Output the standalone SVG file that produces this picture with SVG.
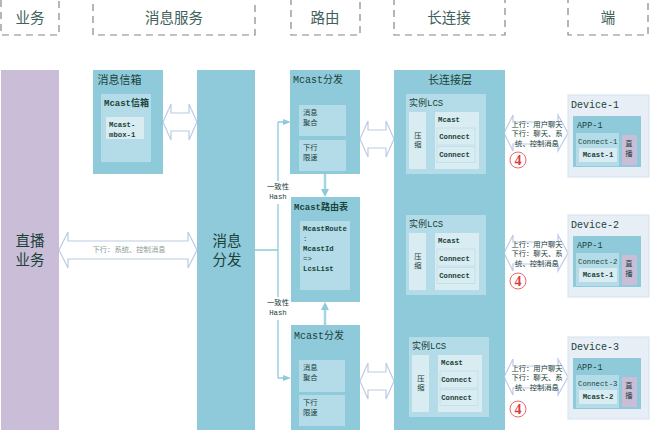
<svg xmlns="http://www.w3.org/2000/svg" width="650" height="430" viewBox="0 0 650 430">
<style>
text{font-family:"Liberation Mono","Noto Sans CJK SC",monospace;fill:#1b4238;text-anchor:middle}
.s{font-family:"Noto Sans CJK SC","Liberation Sans",sans-serif}
.hd{fill:none;stroke:#7d8a86;stroke-width:1.2;stroke-dasharray:7 5}
.ht{font-size:14.5px;fill:#40625a}
.a{fill:#8fcadb}.b{fill:#b4dce8}.c{fill:#d9ecf2}.p{fill:#c9bdd8}.d{fill:#e7eef6;stroke:#d5e3ee;stroke-width:1}
.box{fill:#d9ecf2;stroke:#c3e1ea;stroke-width:1}
.da{fill:#fff;stroke:#bccbe6;stroke-width:1.2}
.ln{fill:none;stroke:#8fcadb;stroke-width:1.3}
.lw{fill:none;stroke:#a5d5e3;stroke-width:2.5}
.ah{fill:#8fcadb}
.t11{font-size:11px}.t10{font-size:10px}.t9{font-size:9px}.t8{font-size:8.5px}.t7{font-size:7.3px}.bd{font-weight:bold}
.l{text-anchor:start}
.big{font-size:14.5px;font-family:"Noto Sans CJK SC","Liberation Sans",sans-serif}
.c4{fill:#fff;stroke:#e86a6a;stroke-width:1}
.n4{font-size:14px;font-weight:bold;fill:#e0393e;font-family:"Liberation Serif",serif}
</style>
<defs>
<path id="dbl" d="M-17 0L-9 -18V-9H9V-18L17 0L9 18V9H-9V18Z"/>
<path id="dblr" d="M-32 0L-23 -18V-11H22V-18L32 0L22 18V11H-23V18Z"/>
<g id="lcs">
<rect class="b" width="80" height="80"/>
<rect class="c" x="3" y="18" width="17" height="57"/>
<rect class="c" x="29" y="18" width="44" height="57"/>
<rect class="box" x="31" y="34" width="38" height="17"/>
<rect class="box" x="31" y="52.5" width="38" height="16"/>
</g>
<g id="dev">
<rect class="d" width="81" height="82"/>
<rect class="a" x="5" y="21" width="68" height="51"/>
<rect class="b" x="8" y="38" width="43" height="33"/>
<rect class="c" x="11" y="53" width="38" height="14"/>
<rect class="p" x="54" y="40" width="15" height="30"/>
</g>
</defs>

<g id="connectors">
<path class="ln" d="M255 250H278M278 122V182M278 204V298M278 320V378M278 122H285M278 378H285"/>
<path class="ah" d="M283 119L291 122L283 125ZM283 375L291 378L283 381Z"/>
<path class="lw" d="M325 174V190M325 325V309"/>
<path class="ah" d="M321 189H329L325 197ZM321 310H329L325 302Z"/>
<use href="#dbl" class="da" x="180" y="122"/>
<use href="#dbl" class="da" x="377" y="139"/>
<use href="#dbl" class="da" x="377" y="381"/>
<path class="da" d="M59 250L68 232V241H188V232L197 250L188 268V259H68V268Z"/>
<use href="#dblr" class="da" x="536" y="133"/>
<use href="#dblr" class="da" x="536" y="253"/>
<use href="#dblr" class="da" x="536" y="377"/>
</g>

<g id="header-biz"><rect class="hd" x="1" y="-1" width="58" height="36"/><text class="s ht" x="30" y="23">业务</text></g>
<g id="header-msg"><rect class="hd" x="93" y="-1" width="162" height="36"/><text class="s ht" x="174" y="23">消息服务</text></g>
<g id="header-route"><rect class="hd" x="291" y="-1" width="69" height="36"/><text class="s ht" x="325" y="23">路由</text></g>
<g id="header-conn"><rect class="hd" x="394" y="-1" width="111" height="36"/><text class="s ht" x="449" y="23">长连接</text></g>
<g id="header-end"><rect class="hd" x="568" y="-1" width="80" height="36"/><text class="s ht" x="608" y="23">端</text></g>

<g id="live"><rect class="p" x="1" y="70" width="58" height="360"/>
<text class="big" x="30" y="246">直播</text><text class="big" x="30" y="265">业务</text></g>

<g id="mailbox"><rect class="a" x="93" y="70" width="70" height="104"/>
<text class="t11 l" x="97.5" y="84">消息信箱</text>
<rect class="b" x="101" y="94" width="50" height="68"/>
<text class="t9 l" x="104" y="106" font-weight="bold">Mcast信箱</text>
<rect class="c" x="106" y="117" width="38" height="22"/>
<text class="t7 l bd" x="109" y="127">Mcast-</text><text class="t7 l bd" x="109" y="137">mbox-1</text></g>

<g id="dispatch"><rect class="a" x="197" y="70" width="58" height="360"/>
<text class="big" x="227" y="246">消息</text><text class="big" x="227" y="265">分发</text></g>

<g id="route-top"><rect class="a" x="290" y="70" width="70" height="104"/>
<text class="t10 l" x="293" y="83">Mcast分发</text>
<rect class="b" x="299" y="105" width="47" height="31"/><rect class="b" x="299" y="140" width="47" height="31"/>
<text class="t7 l" x="303" y="115">消息</text><text class="t7 l" x="303" y="125">聚合</text>
<text class="t7 l" x="303" y="150">下行</text><text class="t7 l" x="303" y="160">限速</text></g>

<g id="route-table"><rect class="a" x="291" y="197" width="69" height="105"/>
<text class="t9 l" x="294" y="210" font-weight="bold">Mcast路由表</text>
<rect class="b" x="300" y="221" width="50" height="69"/>
<text class="t7 l bd" x="303" y="231">McastRoute</text><text class="t7 l" x="303" y="241">:</text>
<text class="t7 l bd" x="303" y="251">McastId</text><text class="t7 l" x="303" y="261">=&gt;</text><text class="t7 l bd" x="303" y="271">LcsList</text></g>

<g id="route-bottom"><rect class="a" x="291" y="325" width="69" height="105"/>
<text class="t10 l" x="294" y="339">Mcast分发</text>
<rect class="b" x="299" y="360" width="46" height="32"/><rect class="b" x="299" y="395" width="46" height="31"/>
<text class="t7 l" x="303" y="370">消息</text><text class="t7 l" x="303" y="380">聚合</text>
<text class="t7 l" x="303" y="405">下行</text><text class="t7 l" x="303" y="415">限速</text></g>

<g id="hash-1"><rect fill="#fff" x="265" y="181" width="25" height="23"/><text class="t7" x="278" y="189">一致性</text><text class="t7" x="278" y="199">Hash</text></g>
<g id="hash-2"><rect fill="#fff" x="265" y="297" width="25" height="23"/><text class="t7" x="278" y="305">一致性</text><text class="t7" x="278" y="315">Hash</text></g>

<g id="lcs-layer"><rect class="a" x="394" y="70" width="111" height="360"/>
<text class="t11" x="450" y="84">长连接层</text></g>

<g id="lcs-1"><use href="#lcs" x="406" y="94"/>
<text class="t9 l" x="409" y="106">实例LCS</text>
<text class="t7" x="418" y="138">压</text><text class="t7" x="418" y="147">缩</text>
<text class="t7 l bd" x="438" y="122">Mcast</text>
<text class="t7 bd" x="454.5" y="138.5">Connect</text><text class="t7 bd" x="454.5" y="156.5">Connect</text></g>
<g id="lcs-2"><use href="#lcs" x="406" y="215"/>
<text class="t9 l" x="409" y="227">实例LCS</text>
<text class="t7" x="418" y="259">压</text><text class="t7" x="418" y="268">缩</text>
<text class="t7 l bd" x="438" y="243">Mcast</text>
<text class="t7 bd" x="454.5" y="260.5">Connect</text><text class="t7 bd" x="454.5" y="277.5">Connect</text></g>
<g id="lcs-3"><use href="#lcs" x="409" y="337"/>
<text class="t9 l" x="412" y="349">实例LCS</text>
<text class="t7" x="421" y="381">压</text><text class="t7" x="421" y="390">缩</text>
<text class="t7 l bd" x="441" y="365">Mcast</text>
<text class="t7 bd" x="456.5" y="381.5">Connect</text><text class="t7 bd" x="456.5" y="399.5">Connect</text></g>

<g id="label-1"><text class="t7" x="537" y="127">上行：用户聊天</text><text class="t7" x="537" y="136">下行：聊天、系</text><text class="t7" x="537" y="146">统、控制消息</text>
<circle class="c4" cx="518" cy="160" r="8"/><text class="n4" x="518" y="165">4</text></g>
<g id="label-2"><text class="t7" x="537" y="247">上行：用户聊天</text><text class="t7" x="537" y="256">下行：聊天、系</text><text class="t7" x="537" y="266">统、控制消息</text>
<circle class="c4" cx="518" cy="281" r="8"/><text class="n4" x="518" y="286">4</text></g>
<g id="label-3"><text class="t7" x="537" y="371">上行：用户聊天</text><text class="t7" x="537" y="380">下行：聊天、系</text><text class="t7" x="537" y="390">统、控制消息</text>
<circle class="c4" cx="518" cy="409" r="8"/><text class="n4" x="518" y="414">4</text></g>
<text id="label-long" class="t7" x="129" y="252" style="fill:#8a9a96">下行：系统、控制消息</text>

<g id="device-1"><use href="#dev" x="568" y="95"/>
<text class="t10 l" x="571" y="108">Device-1</text><text class="t8 l" x="577" y="128">APP-1</text>
<text class="t7 l" x="578" y="143.5">Connect-1</text><text class="t7 bd" x="598" y="157">Mcast-1</text>
<text class="t7" x="629" y="146">直</text><text class="t7" x="629" y="156">播</text></g>
<g id="device-2"><use href="#dev" x="568" y="215"/>
<text class="t10 l" x="571" y="228">Device-2</text><text class="t8 l" x="577" y="248">APP-1</text>
<text class="t7 l" x="578" y="263.5">Connect-2</text><text class="t7 bd" x="598" y="277">Mcast-1</text>
<text class="t7" x="629" y="266">直</text><text class="t7" x="629" y="276">播</text></g>
<g id="device-3"><use href="#dev" x="568" y="337"/>
<text class="t10 l" x="571" y="350">Device-3</text><text class="t8 l" x="577" y="370">APP-1</text>
<text class="t7 l" x="578" y="385.5">Connect-3</text><text class="t7 bd" x="598" y="399">Mcast-2</text>
<text class="t7" x="629" y="388">直</text><text class="t7" x="629" y="398">播</text></g>
</svg>
